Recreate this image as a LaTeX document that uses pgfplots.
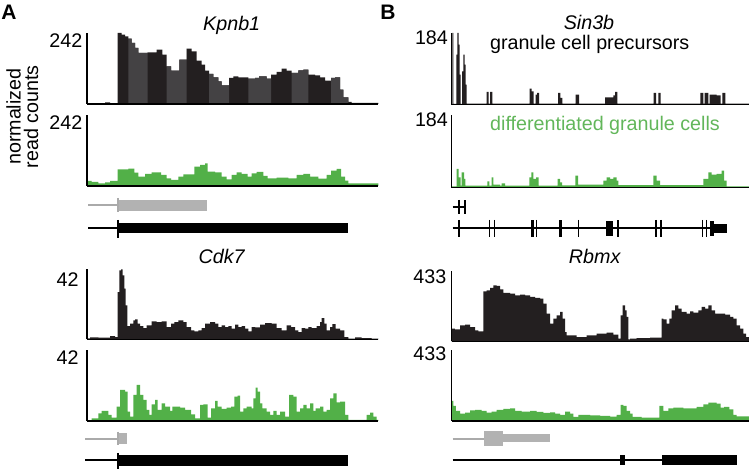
\documentclass[border=0pt]{standalone}
\usepackage{fontspec}
\setmainfont{Liberation Sans}
\usepackage{pgfplots}
\usepackage{pgfplotstable}
\pgfplotsset{compat=1.18}
\definecolor{dk}{RGB}{35,31,32}
\definecolor{lt}{RGB}{68,66,68}
\definecolor{gr}{RGB}{82,176,72}
\definecolor{grt}{RGB}{98,182,90}
\definecolor{gm}{RGB}{178,178,178}
\definecolor{gl}{RGB}{170,170,170}
\pgfplotsset{trk/.style={scale only axis, anchor=south west, axis x line*=bottom, axis y line*=left,
  axis line style={-, line width=0.6pt, black}, xtick=\empty, ytick=\empty, ymin=0,
  enlargelimits=false, axis on top}}

% Kpnb1, granule cell precursors (x: position, y: coverage)
\pgfplotstableread{
x y
6 2
60 5
75 2
98 213
110 208
120 203
130 196
140 183
150 168
160 153
188 155
215 163
232 148
245 113
258 100
283 133
305 166
320 158
335 130
350 118
360 100
372 90
385 80
400 68
410 56
432 78
445 83
460 80
490 76
510 78
522 83
545 76
558 88
575 96
590 106
605 100
620 93
640 101
655 103
670 88
690 86
705 80
720 70
738 78
750 80
765 43
775 20
790 6
800 3
880 3
}\kpnbA

\begin{document}
\begin{tikzpicture}[x=0.5pt, y=-0.5pt, every node/.style={inner sep=0pt, font=\fontsize{9.85}{11}\selectfont}]
\useasboundingbox (0,0) rectangle (749,469);

% ---------- Kpnb1 ----------
\begin{axis}[trk, at={(43.5pt,-52pt)}, width=145.67pt, height=35.5pt, xmin=6, xmax=880, ymax=213]
\addplot[const plot, fill=dk, draw=none] table {\kpnbA} \closedcycle;
\addplot[const plot, fill=lt, draw=none, restrict x to domain=130:188] table {\kpnbA} \closedcycle;
\addplot[const plot, fill=lt, draw=none, restrict x to domain=245:305] table {\kpnbA} \closedcycle;
\addplot[const plot, fill=lt, draw=none, restrict x to domain=372:432] table {\kpnbA} \closedcycle;
\addplot[const plot, fill=lt, draw=none, restrict x to domain=490:558] table {\kpnbA} \closedcycle;
\addplot[const plot, fill=lt, draw=none, restrict x to domain=620:670] table {\kpnbA} \closedcycle;
\addplot[const plot, fill=lt, draw=none, restrict x to domain=738:790] table {\kpnbA} \closedcycle;
\end{axis}

\begin{axis}[trk, at={(43.5pt,-93pt)}, width=145.67pt, height=35.5pt, xmin=6, xmax=880, ymax=213]
\addplot[const plot, fill=gr, draw=none] table {
6 15
20 12
40 8
60 11
75 15
98 50
130 52
148 40
160 28
180 36
200 41
228 33
245 23
258 18
280 28
295 35
328 58
345 63
360 68
368 43
390 41
410 28
425 20
440 33
455 41
470 36
488 28
500 38
515 42
535 30
548 23
575 25
610 23
635 33
655 36
675 28
700 22
725 33
738 46
755 51
768 28
780 16
790 8
880 8
} \closedcycle;
\end{axis}

% ---------- Cdk7 ----------
\begin{axis}[trk, at={(43.5pt,-169.67pt)}, width=145.67pt, height=35pt, xmin=6, xmax=880, ymax=210]
\addplot[const plot, fill=dk, draw=none] table {
6 3
15 6
40 5
75 10
90 7
98 142
103 207
108 210
113 192
118 152
122 102
127 40
135 47
145 57
150 60
158 47
165 40
175 34
185 42
200 54
215 52
230 54
245 37
258 47
268 52
280 57
295 52
305 37
318 27
328 24
340 27
350 34
360 47
375 52
390 47
400 37
410 42
420 37
430 40
440 32
450 44
460 37
470 40
480 32
490 24
500 37
510 36
525 44
540 49
560 47
575 34
590 27
605 42
618 37
630 27
640 22
650 34
660 32
670 37
680 34
695 40
705 52
710 64
718 47
725 27
735 37
742 46
752 32
765 27
778 7
790 2
810 6
830 4
860 2
880 2
} \closedcycle;
\end{axis}

\begin{axis}[trk, at={(43.5pt,-210.5pt)}, width=145.67pt, height=35.5pt, xmin=6, xmax=880, ymax=213]
\addplot[const plot, fill=gr, draw=none] table {
6 0
20 8
40 23
50 30
70 18
80 10
95 43
105 93
120 88
128 28
135 13
145 78
155 108
165 78
175 63
185 33
193 18
200 50
210 63
218 33
230 53
240 43
255 30
262 43
285 40
300 33
318 20
330 8
345 48
355 50
368 10
378 38
390 60
398 43
410 36
425 40
438 43
448 73
458 76
465 28
475 38
485 43
500 38
505 68
512 100
518 88
525 53
532 38
545 28
555 18
565 30
575 18
585 28
600 13
612 78
625 73
635 28
645 38
655 48
665 38
675 53
685 30
692 38
705 43
715 28
725 33
735 68
745 83
755 56
765 58
780 18
790 3
845 18
855 25
865 13
875 3
880 3
} \closedcycle;
\end{axis}

% ---------- Sin3b ----------
\begin{axis}[trk, at={(225.67pt,-52.33pt)}, width=148.83pt, height=35.83pt, xmin=4, xmax=897, ymax=215]
\addplot[const plot, fill=dk, draw=none] table {
4 0
7 215
10 2
19 150
22 215
26 180
29 90
32 2
36 100
40 150
44 120
47 60
50 3
110 38
116 3
120 38
127 3
239 48
245 40
251 3
257 30
261 35
267 3
324 35
331 20
337 3
377 30
387 3
465 22
490 28
495 38
502 3
611 35
618 3
625 35
632 3
751 35
760 3
764 35
775 3
779 30
800 28
812 3
817 35
826 3
897 3
} \closedcycle;
\end{axis}

\begin{axis}[trk, at={(225.67pt,-93.67pt)}, width=148.83pt, height=36.17pt, xmin=4, xmax=897, ymax=217]
\addplot[const plot, fill=gr, draw=none] table {
4 3
20 55
26 30
32 5
35 45
42 25
46 5
112 18
118 5
125 30
130 8
150 5
155 12
165 5
238 30
244 45
250 25
258 30
266 5
323 25
330 15
336 6
376 35
384 8
460 20
470 30
480 25
490 30
500 20
505 7
610 35
620 20
630 7
760 25
775 45
785 38
800 40
815 50
822 20
830 3
897 3
} \closedcycle;
\end{axis}

% ---------- Rbmx ----------
\begin{axis}[trk, at={(225.83pt,-170.67pt)}, width=148.67pt, height=35.17pt, xmin=5, xmax=897, ymax=211]
\addplot[const plot, fill=dk, draw=none] table {
5 38
15 36
30 48
45 50
60 43
75 33
85 30
100 150
110 153
120 160
130 168
140 166
150 156
160 145
180 143
195 138
210 140
225 138
240 133
255 130
270 128
280 113
290 83
300 53
310 68
320 78
330 88
338 68
345 28
350 18
380 13
410 18
440 23
470 26
490 20
505 8
512 78
518 108
525 93
530 73
535 6
540 8
560 10
600 11
635 68
640 66
650 53
658 68
665 93
675 108
685 98
695 88
710 83
720 90
730 86
745 93
755 103
765 98
775 108
785 93
795 83
825 80
840 73
850 68
860 48
870 38
880 23
888 13
897 13
} \closedcycle;
\end{axis}

\begin{axis}[trk, at={(225.83pt,-210.5pt)}, width=148.67pt, height=35.5pt, xmin=5, xmax=897, ymax=213]
\addplot[const plot, fill=gr, draw=none] table {
5 60
10 45
18 30
30 22
45 25
60 32
75 33
95 30
110 25
125 28
140 33
160 36
180 38
195 30
215 28
240 30
260 27
280 24
300 26
315 22
330 18
345 28
360 22
370 12
385 18
420 17
450 15
480 13
500 18
512 48
520 45
530 30
540 22
548 12
575 10
628 45
640 30
655 38
670 40
700 38
740 42
760 50
775 55
800 52
812 40
822 42
838 35
850 18
860 14
897 14
} \closedcycle;
\end{axis}

% ---------- gene models ----------
% Kpnb1
\draw[gl, line width=0.6pt] (88,205) -- (118,205);
\fill[gm] (118,200) rectangle (207,211);
\draw[gl, line width=0.6pt] (118,198) -- (118,212);
\draw[black, line width=0.6pt] (88,228) -- (118,228);
\fill[black] (118,223) rectangle (348,233);
\draw[black, line width=0.6pt] (118,220) -- (118,238);
% Cdk7
\draw[gl, line width=0.6pt] (85,439) -- (118,439);
\fill[gm] (118,433.5) rectangle (126.7,444);
\draw[gl, line width=0.6pt] (118,431.7) -- (118,445);
\draw[black, line width=0.6pt] (85,460) -- (118,460);
\fill[black] (118,455) rectangle (348.3,466);
\draw[black, line width=0.6pt] (118,453) -- (118,470);
% Sin3b
\draw[black, line width=0.6pt] (452.7,207) -- (466,207);
\draw[black, line width=0.6pt] (459,200) -- (459,214);
\fill[black] (464.3,200) rectangle (466,214);
\draw[black, line width=0.6pt] (452.7,228) -- (715,228);
\foreach \e in {459,489.3,494.3,536.7,578.3,656,661,702.7,706.7}
  {\draw[black, line width=0.7pt] (\e,220) -- (\e,237);}
\fill[black] (531,220) rectangle (533.5,237);
\fill[black] (559,220) rectangle (561.7,237);
\fill[black] (606,221) rectangle (613.3,236);
\fill[black] (616.5,220) rectangle (618.5,237);
\fill[black] (710,221) rectangle (714,236);
\fill[black] (714,224) rectangle (726.7,233);
% Rbmx
\draw[gl, line width=0.6pt] (452.7,439) -- (484,439);
\fill[gm] (484,430.7) rectangle (502.7,446);
\fill[gm] (502.7,434.3) rectangle (550,442.3);
\draw[black, line width=0.6pt] (452.7,460) -- (661.7,460);
\fill[black] (620,455) rectangle (625.3,465);
\fill[black] (661.7,455) rectangle (736.7,465);

% ---------- text ----------
\node[anchor=base west, font=\fontsize{10.5}{12}\selectfont\bfseries] at (1,19.5) {A};
\node[anchor=base west, font=\fontsize{10.5}{12}\selectfont\bfseries] at (380,19.5) {B};
\node[anchor=base] at (231.7,30.7) {\itshape Kpnb1};
\node[anchor=base] at (221.7,263.3) {\itshape Cdk7};
\node[anchor=base] at (589,30) {\itshape Sin3b};
\node[anchor=base] at (594.7,264) {\itshape Rbmx};
\node[anchor=base] at (589.7,50) {granule cell precursors};
\node[anchor=base, text=grt] at (605,130.5) {differentiated granule cells};
\node[anchor=base east] at (82.7,47.3) {242};
\node[anchor=base east] at (82.7,129.3) {242};
\node[anchor=base east] at (79,286.7) {42};
\node[anchor=base east] at (79,365) {42};
\node[anchor=base east] at (448.3,45) {184};
\node[anchor=base east] at (448.3,126.7) {184};
\node[anchor=base east] at (446.7,283.3) {433};
\node[anchor=base east] at (446.7,360.7) {433};
\node[anchor=base, rotate=90] at (20.5,116.7) {normalized};
\node[anchor=base, rotate=90] at (38,116.7) {read counts};
\end{tikzpicture}
\end{document}
